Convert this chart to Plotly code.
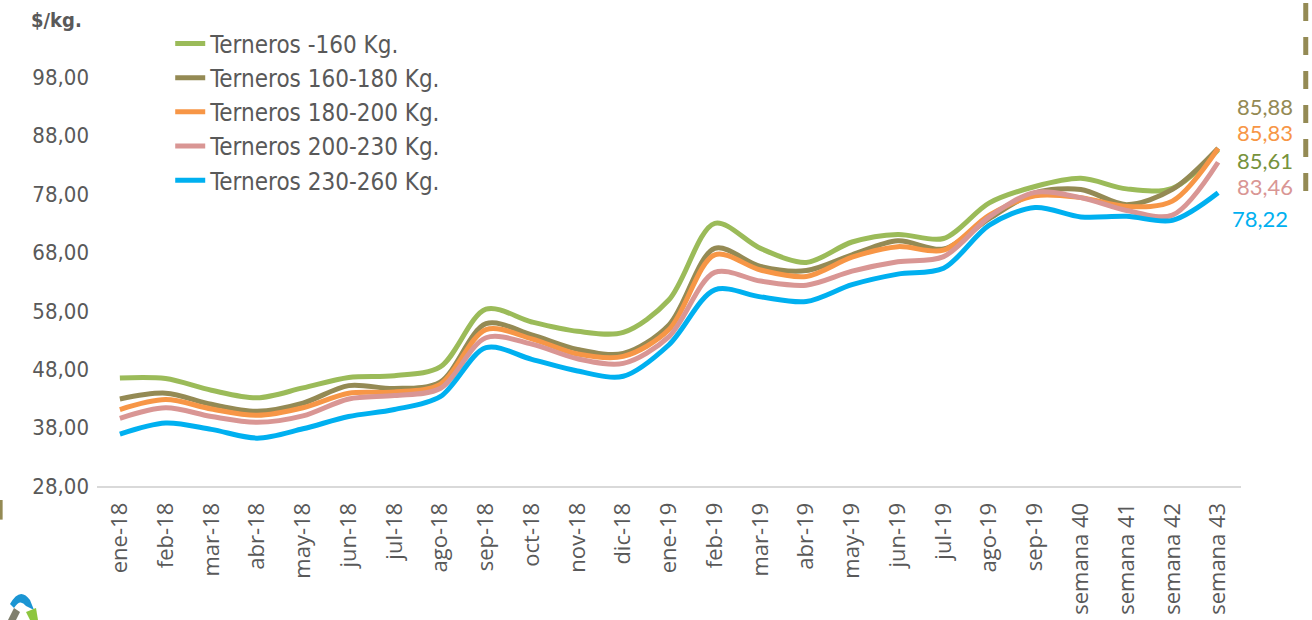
import plotly.graph_objects as go

categories = ["ene-18", "feb-18", "mar-18", "abr-18", "may-18", "jun-18", "jul-18", "ago-18",
              "sep-18", "oct-18", "nov-18", "dic-18", "ene-19", "feb-19", "mar-19", "abr-19",
              "may-19", "jun-19", "jul-19", "ago-19", "sep-19",
              "semana 40", "semana 41", "semana 42", "semana 43"]

terneros_m160 = [46.5, 46.4, 44.4, 43.1, 44.8, 46.6, 46.9, 48.4, 58.3, 56.1, 54.5, 54.3, 59.9,
                 73.0, 68.7, 66.3, 69.8, 71.1, 70.4, 76.5, 79.3, 80.7, 78.9, 79.0, 85.61]
terneros_160_180 = [42.9, 43.9, 42.0, 40.8, 42.2, 45.2, 44.7, 45.8, 55.8, 53.9, 51.4, 50.7, 55.6,
                    68.7, 65.6, 64.9, 67.6, 70.0, 68.6, 73.8, 78.2, 78.8, 76.2, 78.8, 85.88]
terneros_180_200 = [41.1, 42.8, 41.2, 40.1, 41.4, 43.9, 44.1, 45.4, 54.8, 53.2, 50.6, 50.2, 54.8,
                    67.6, 65.0, 63.9, 67.2, 69.0, 68.4, 74.4, 77.7, 77.4, 75.9, 76.8, 85.83]
terneros_200_230 = [39.6, 41.4, 39.9, 38.9, 40.0, 42.9, 43.5, 44.7, 53.4, 52.3, 49.8, 49.0, 53.6,
                    64.6, 63.1, 62.4, 64.8, 66.4, 67.3, 74.1, 78.3, 77.4, 75.2, 74.4, 83.46]
terneros_230_260 = [36.9, 38.8, 37.7, 36.2, 37.8, 39.9, 41.1, 43.3, 51.7, 49.7, 47.7, 46.8, 52.2,
                    61.6, 60.4, 59.6, 62.5, 64.3, 65.3, 72.7, 75.7, 74.1, 74.2, 73.5, 78.22]

series_names = ["Terneros -160 Kg.", "Terneros 160-180 Kg.", "Terneros 180-200 Kg.",
                "Terneros 200-230 Kg.", "Terneros 230-260 Kg."]
series_values = [terneros_m160, terneros_160_180, terneros_180_200, terneros_200_230, terneros_230_260]
line_colors = ["#9BBB59", "#948A54", "#F79646", "#D99694", "#00B0F0"]

y_tick_values = [28, 38, 48, 58, 68, 78, 88, 98]
y_tick_labels = ["28,00", "38,00", "48,00", "58,00", "68,00", "78,00", "88,00", "98,00"]

# end labels (order as stacked on the right)
end_label_order = [1, 2, 0, 3, 4]
end_label_colors = ["#948A54", "#F79646", "#77933C", "#D99694", "#00B0F0"]
end_label_y = [93.0, 88.55, 83.75, 79.3, 73.8]
end_label_xshift = [47, 47, 47, 47, 42]

fig = go.Figure()
for i, (name, vals, col) in enumerate(zip(series_names, series_values, line_colors)):
    fig.add_trace(go.Scatter(
        x=categories, y=vals, name=name, mode="lines",
        line=dict(color=col, width=5, shape="spline", smoothing=0.9),
        legendgroup=f"g{i}", hoverinfo="x+y+name"))

for k, idx in enumerate(end_label_order):
    v = series_values[idx][-1]
    fig.add_annotation(x=categories[-1], y=end_label_y[k], xref="x", yref="y",
                       text=f"{v:.2f}".replace(".", ","), showarrow=False,
                       xshift=end_label_xshift[k], xanchor="center", yanchor="middle",
                       font=dict(family="Lato", size=22, color=end_label_colors[k]))

fig.add_annotation(x=-0.035, y=0.998, xref="paper", yref="paper", text="<b>$/kg.</b>",
                   showarrow=False, xanchor="center", yanchor="middle",
                   font=dict(family="DejaVu Sans Condensed", size=20, color="#595959"))

# dashed vertical line at right
fig.add_shape(type="line", xref="paper", yref="paper", x0=1.0566, x1=1.0566, y0=1.034, y1=0.627,
              line=dict(color="#948A54", width=5, dash="18px,16px"))
# small mark at left edge
fig.add_shape(type="line", xref="paper", yref="paper", x0=-0.0838, x1=-0.0838, y0=-0.03, y1=-0.072,
              line=dict(color="#948A54", width=3))
# logo fragments (bottom-left)
def px(xp):
    return (xp - 97) / 1144
def py(yp):
    return (486 - yp) / 467
fig.add_shape(type="path", xref="paper", yref="paper",
              path=f"M {px(10)},{py(604)} Q {px(20)},{py(586)} {px(30)},{py(600)} L {px(34)},{py(610)} L {px(26)},{py(606)} Q {px(20)},{py(598)} {px(14)},{py(608)} Z",
              fillcolor="#1B95D3", line=dict(width=0))
fig.add_shape(type="path", xref="paper", yref="paper",
              path=f"M {px(8)},{py(620)} L {px(14)},{py(608)} L {px(20)},{py(612)} L {px(16)},{py(620)} Z",
              fillcolor="#7F7F6E", line=dict(width=0))
fig.add_shape(type="path", xref="paper", yref="paper",
              path=f"M {px(26)},{py(612)} L {px(36)},{py(608)} L {px(38)},{py(620)} L {px(30)},{py(620)} Z",
              fillcolor="#8DC63F", line=dict(width=0))

fig.update_layout(
    width=1312, height=620,
    margin=dict(l=97, r=71, t=19, b=134, autoexpand=False),
    paper_bgcolor="white", plot_bgcolor="white",
    font=dict(family="DejaVu Sans Condensed", color="#595959"),
    showlegend=True,
    legend=dict(x=0.064, y=0.995, xanchor="left", yanchor="top", bgcolor="rgba(0,0,0,0)",
                font=dict(family="DejaVu Sans Condensed", size=24, color="#595959"),
                tracegroupgap=0, itemwidth=30),
    xaxis=dict(type="category", categoryorder="array", categoryarray=categories,
               range=[-0.5, len(categories) - 0.5], automargin=False,
               showgrid=False, zeroline=False, showline=True, linecolor="#D9D9D9", linewidth=2,
               tickangle=-90, ticks="", ticklabelstandoff=6,
               tickfont=dict(family="Open Sans", size=22, color="#595959")),
    yaxis=dict(range=[28, 108], tickvals=y_tick_values, ticktext=y_tick_labels, automargin=False,
               showgrid=False, zeroline=False, showline=False, ticks="", ticklabelstandoff=7,
               tickfont=dict(family="DejaVu Sans Condensed", size=22, color="#595959")),
)

fig.write_html("out.html", config={"displayModeBar": False},
               post_script="document.body.style.margin='0px';document.body.style.overflow='hidden';")
